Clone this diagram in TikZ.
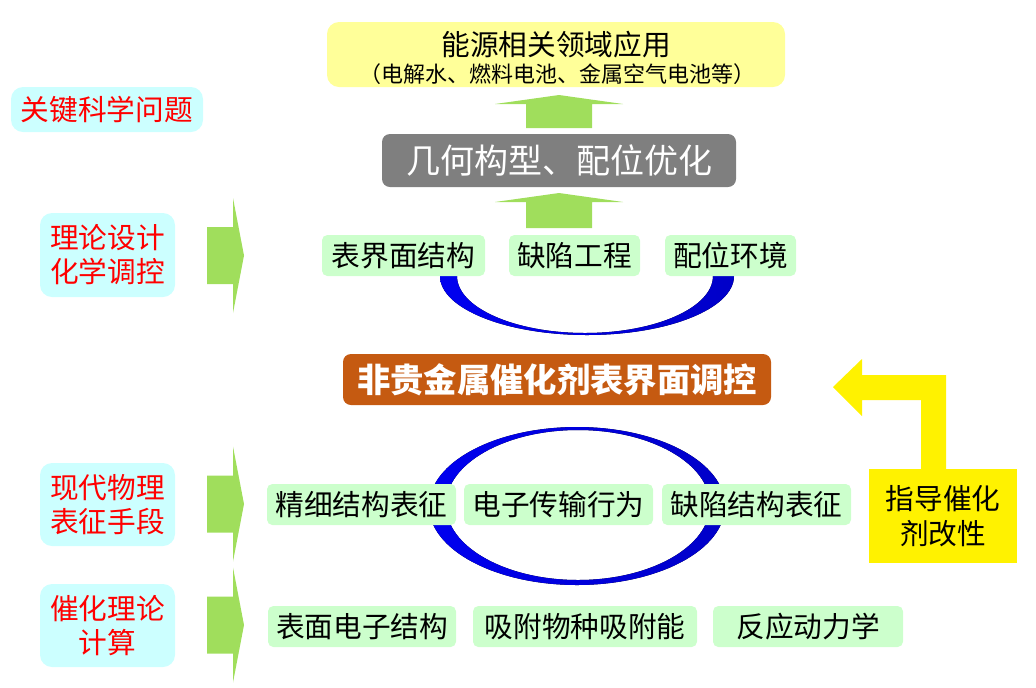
\documentclass[tikz,border=0pt]{standalone}
\usepackage{fontspec}
\setmainfont{Noto Sans CJK SC}
\definecolor{lgreen}{HTML}{CCFFCC}
\definecolor{agreen}{HTML}{A0DE5C}
\definecolor{lcyan}{HTML}{CCFFFF}
\definecolor{lyellow}{HTML}{FFFF99}
\definecolor{greybox}{HTML}{7F7F7F}
\definecolor{orangebox}{HTML}{C55A11}
\definecolor{ringblue}{HTML}{0000F0}
\definecolor{ringdark}{HTML}{0000C8}
\begin{document}
\begin{tikzpicture}[x=0.75pt,y=-0.75pt,
  rowbox/.style={fill=lgreen, rounded corners=4pt, inner sep=0pt, minimum height=30.75pt,
    font=\fontsize{21.5pt}{25pt}\selectfont, text=black},
  keybox/.style={fill=lcyan, rounded corners=9pt, inner sep=0pt, align=center,
    font=\fontsize{21.5pt}{25.5pt}\selectfont, text=red},
  uparr/.pic={\fill[agreen] (0,0) -- (64,9) -- (33,9) -- (33,#1) -- (-33,#1) -- (-33,9) -- (-64,9) -- cycle;},
  rarr/.pic={\fill[agreen] (0,-28.5) -- (26,-28.5) -- (26,-57.5) -- (37,0) -- (26,57.5) -- (26,28.5) -- (0,28.5) -- cycle;}
]
\useasboundingbox (0,0) rectangle (1036,687);

% blue crescent (top) and ring (bottom), drawn beneath the boxes
\fill[left color=ringblue, right color=ringdark] (440,272) -- (440,276) arc[start angle=180, end angle=0, x radius=147, y radius=59] -- (734,272) -- (713,272) -- (713,276) arc[start angle=0, end angle=180, x radius=128, y radius=57] -- (457,272) -- cycle;
\fill[left color=ringblue, right color=ringdark, even odd rule] (577,506) ellipse[x radius=148, y radius=79] (578,505) ellipse[x radius=132, y radius=75];

% top application box
\node[fill=lyellow, rounded corners=9pt, inner sep=0pt, minimum width=343.5pt, minimum height=48.75pt] (app) at (556,54.5) {};
\node[font=\fontsize{21.5pt}{26pt}\selectfont, inner sep=0pt] (apptitle) at (556,45) {能源相关领域应用};
\node[font=\fontsize{16.5pt}{19pt}\selectfont, inner sep=0pt] (appsub) at (557,74) {（电解水、燃料电池、金属空气电池等）};

\pic at (559,95) {uparr=33};
\node[fill=greybox, rounded corners=6pt, inner sep=0pt, minimum width=265.5pt, minimum height=39.75pt,
  text=white, font=\fontsize{25.5pt}{30pt}\selectfont] (geo) at (559,160.5) {几何构型、配位优化};
\pic at (559,193) {uparr=35};

\node[rowbox, minimum width=122.25pt] (r1a) at (403.5,255.5) {表界面结构};
\node[rowbox, minimum width=98.25pt] (r1b) at (574.5,255.5) {缺陷工程};
\node[rowbox, minimum width=98.25pt] (r1c) at (730.5,255.5) {配位环境};

\node[fill=orangebox, rounded corners=6pt, inner sep=0pt, minimum width=321pt, minimum height=38.25pt,
  text=white, font=\fontsize{25pt}{30pt}\selectfont\bfseries] (core) at (557,379.5) {非贵金属催化剂表界面调控};

\node[rowbox, minimum width=141.75pt] (r2a) at (361.5,504.5) {精细结构表征};
\node[rowbox, minimum width=141.75pt] (r2b) at (558.5,504.5) {电子传输行为};
\node[rowbox, minimum width=141.75pt] (r2c) at (756.5,504.5) {缺陷结构表征};

\node[rowbox, minimum width=141pt] (r3a) at (362,626.5) {表面电子结构};
\node[rowbox, minimum width=168pt] (r3b) at (585,626.5) {吸附物种吸附能};
\node[rowbox, minimum width=142.5pt] (r3c) at (808,626.5) {反应动力学};

% yellow feedback arrow and box
\fill[yellow] (833,387) -- (862,359) -- (862,375) -- (946,375) -- (946,470) -- (921,470) -- (921,400) -- (862,400) -- (862,416) -- cycle;
\node[fill=yellow, inner sep=0pt, minimum width=111pt, minimum height=70.5pt, align=center,
  font=\fontsize{21.5pt}{26pt}\selectfont] (guide) at (943,516) {指导催化\\剂改性};

% left key boxes
\node[keybox, minimum width=144pt, minimum height=33.75pt] (key) at (107,109.5) {关键科学问题};
\node[keybox, minimum width=101.25pt, minimum height=63pt] (k1) at (107.5,255) {理论设计\\化学调控};
\node[keybox, minimum width=101.25pt, minimum height=62.25pt] (k2) at (107.5,504.5) {现代物理\\表征手段};
\node[keybox, minimum width=101.25pt, minimum height=62.25pt] (k3) at (107.5,625.5) {催化理论\\计算};

\pic at (207,255.5) {rarr};
\pic at (207,504) {rarr};
\pic at (207,625) {rarr};
\end{tikzpicture}
\end{document}
